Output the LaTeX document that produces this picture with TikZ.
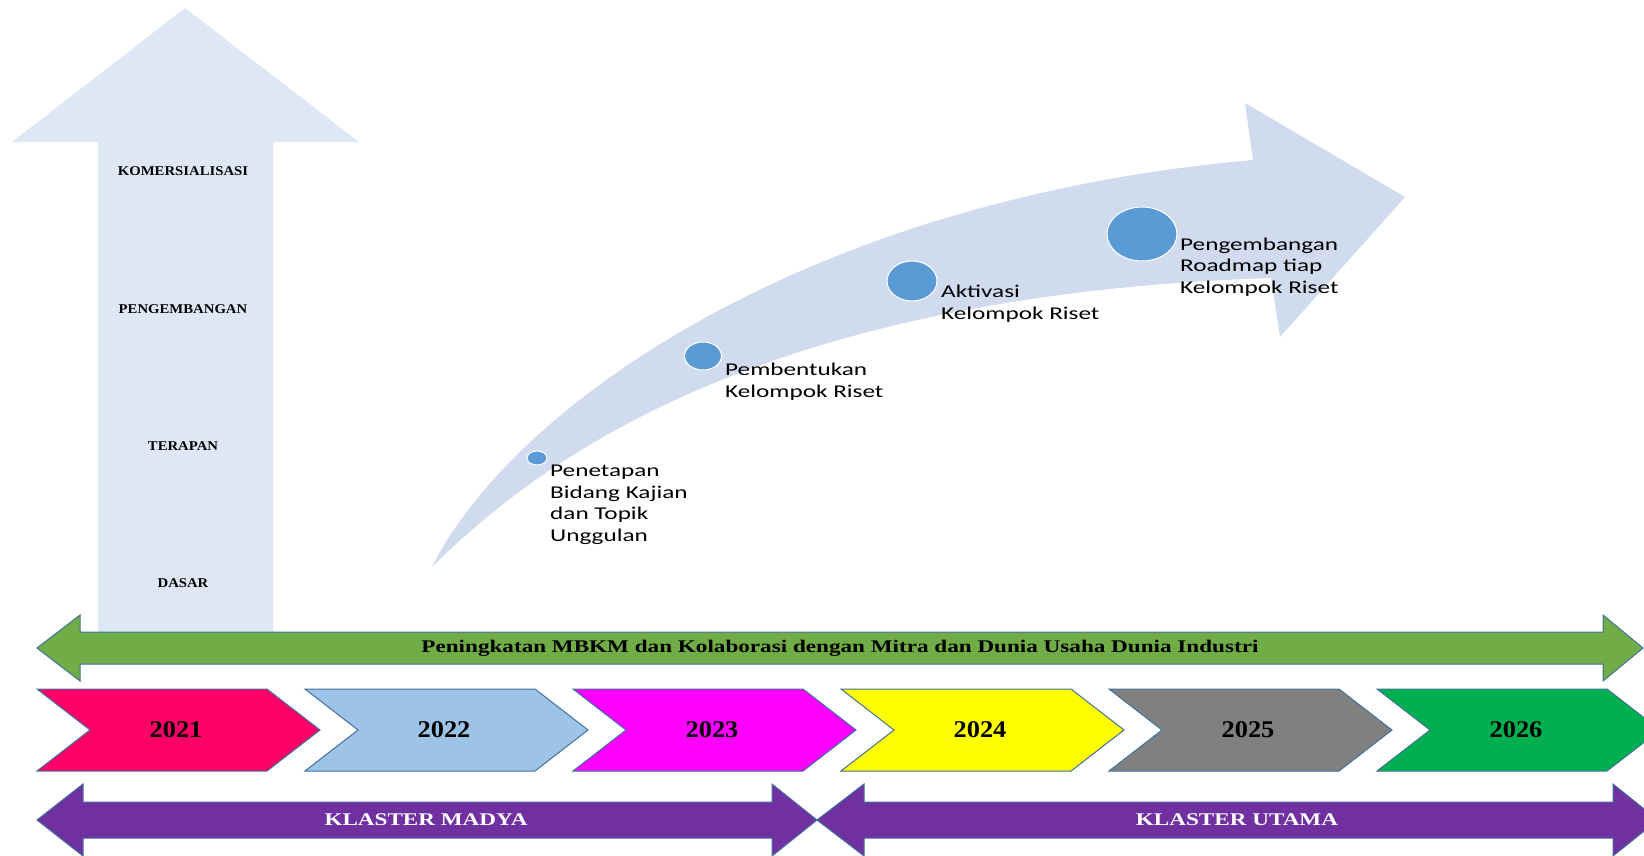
\documentclass[tikz,border=0pt]{standalone}
\usepackage{fontspec}
\setmainfont{Liberation Serif}
\newfontfamily\timeswide[FakeStretch=1.3]{Liberation Serif}
\newfontfamily\timesnarrow[FakeStretch=1.1]{Liberation Serif}
\newfontfamily\calibriwide[FakeStretch=1.4]{Carlito}

\definecolor{arrowpale}{HTML}{DDE8F4}
\definecolor{curvepale}{HTML}{D0DCEE}
\definecolor{dotblue}{HTML}{5B9BD5}
\definecolor{edgeblue}{HTML}{41719C}
\definecolor{bandgreen}{HTML}{70AD47}
\definecolor{bandpurple}{HTML}{7030A0}
\definecolor{yearA}{HTML}{FF0066}
\definecolor{yearB}{HTML}{9DC3E6}
\definecolor{yearC}{HTML}{FF00FF}
\definecolor{yearD}{HTML}{FFFF00}
\definecolor{yearE}{HTML}{808080}
\definecolor{yearF}{HTML}{00B050}

\tikzset{
  levellabel/.style={font=\timesnarrow\bfseries\fontsize{13.4}{15}\selectfont},
  stagelabel/.style={anchor=base west, align=left, inner sep=0pt,
    font=\calibriwide\fontsize{18}{21.5}\selectfont},
  yeartext/.style={font=\timesnarrow\bfseries\fontsize{24}{27}\selectfont},
  bandtext/.style={font=\timeswide\bfseries\fontsize{17.8}{20}\selectfont},
  chevron/.style={draw=edgeblue, line width=1pt},
  band/.style={draw=edgeblue, line width=1pt},
  stagedot/.style={fill=dotblue, draw=white, line width=1pt}
}

\begin{document}
\begin{tikzpicture}[x=1pt, y=-1pt]

\useasboundingbox (0,0) rectangle (1644,855);
\clip (0,0) rectangle (1644,855);

% vertical arrow with levels
\fill[arrowpale] (185,8) -- (359,142) -- (273,142) -- (273,640) -- (98,640) -- (98,142) -- (12,142) -- cycle;

\node[levellabel] (komersial) at (183,171) {KOMERSIALISASI};
\node[levellabel] (pengembangan) at (183,309) {PENGEMBANGAN};
\node[levellabel] (terapan) at (183,446) {TERAPAN};
\node[levellabel] (dasar) at (183,583) {DASAR};

% curved arrow
\fill[curvepale] (432,567) .. controls (510,410) and (800,200) .. (1253,160)
  -- (1245,103) -- (1405,197) -- (1280,337) -- (1271,278)
  .. controls (760,295) and (540,460) .. (432,567) -- cycle;

\coordinate (d1) at (537,458);
\coordinate (d2) at (703,356);
\coordinate (d3) at (912,281);
\coordinate (d4) at (1142,234);

\filldraw[stagedot] (d1) ellipse (10 and 7);
\filldraw[stagedot] (d2) ellipse (18.5 and 14);
\filldraw[stagedot] (d3) ellipse (25 and 20);
\filldraw[stagedot] (d4) ellipse (35 and 27);

% labels sit on the baseline of their last line
\node[stagelabel] (penetapan) at (550,541) {Penetapan\\Bidang Kajian\\dan Topik\\Unggulan};
\node[stagelabel] (pembentukan) at (725,397) {Pembentukan\\Kelompok Riset};
\node[stagelabel] (aktivasi) at (941,319) {Aktivasi\\Kelompok Riset};
\node[stagelabel] (roadmap) at (1180,293) {Pengembangan\\Roadmap tiap\\Kelompok Riset};

% green double arrow
\filldraw[band, fill=bandgreen] (37,648) -- (80,615) -- (80,632) -- (1603,632) -- (1603,615)
  -- (1643,648) -- (1603,681) -- (1603,664) -- (80,664) -- (80,681) -- cycle;
\node[bandtext] (mbkm) at (840,648) {Peningkatan MBKM dan Kolaborasi dengan Mitra dan Dunia Usaha Dunia Industri};

% years
\foreach \yr/\col [count=\i from 0] in {2021/yearA,2022/yearB,2023/yearC,2024/yearD,2025/yearE,2026/yearF}
{
  \filldraw[chevron, fill=\col] ({37+268*\i},689) -- ({267+268*\i},689) -- ({320+268*\i},730)
    -- ({267+268*\i},771) -- ({37+268*\i},771) -- ({90+268*\i},730) -- cycle;
  \node[yeartext] (y\yr) at ({176+268*\i},730) {\yr};
}

% purple double arrows
\filldraw[band, fill=bandpurple] (37,820) -- (83,784) -- (83,802) -- (772,802) -- (772,784)
  -- (817,820) -- (772,856) -- (772,838) -- (83,838) -- (83,856) -- cycle;
\filldraw[band, fill=bandpurple] (817,820) -- (864,784) -- (864,802) -- (1613,802) -- (1613,784)
  -- (1658,820) -- (1613,856) -- (1613,838) -- (864,838) -- (864,856) -- cycle;

\node[bandtext, text=white] (madya) at (426,820) {KLASTER MADYA};
\node[bandtext, text=white] (utama) at (1237,820) {KLASTER UTAMA};

\end{tikzpicture}
\end{document}
